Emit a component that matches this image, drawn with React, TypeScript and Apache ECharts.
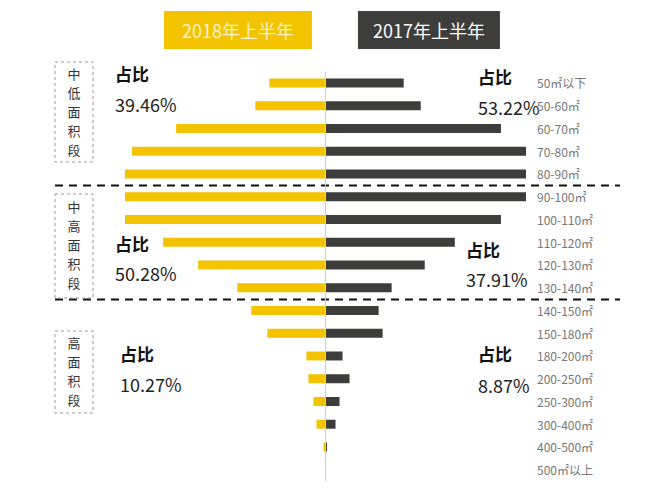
import React, { useEffect, useRef } from "react";
import * as echarts from "echarts";

const categories = [
  "50㎡以下", "50-60㎡", "60-70㎡", "70-80㎡", "80-90㎡", "90-100㎡",
  "100-110㎡", "110-120㎡", "120-130㎡", "130-140㎡", "140-150㎡", "150-180㎡",
  "180-200㎡", "200-250㎡", "250-300㎡", "300-400㎡", "400-500㎡", "500㎡以上",
];
const series2018 = [56, 70, 149, 193, 200, 200, 200, 162, 127, 88, 74, 58, 19, 17, 12, 9, 2, 0];
const series2017 = [78, 95, 175, 200, 200, 200, 175, 129, 99, 66, 53, 57, 17, 24, 14, 10, 1.5, 0];
const seriesNames = ["2018年上半年", "2017年上半年"];
const groupNames = ["中低面积段", "中高面积段", "高面积段"];
const share2018 = ["39.46%", "50.28%", "10.27%"];
const share2017 = ["53.22%", "37.91%", "8.87%"];
const shareTitle = "占比";

const YELLOW = "#f3c300";
const DARK = "#3d3d3b";

export default function App() {
  const ref = useRef<HTMLDivElement>(null);
  useEffect(() => {
    if (!ref.current) return;
    const chart = echarts.init(ref.current, undefined, { renderer: "svg" });
    const font = "Noto Sans CJK SC";
    const boxes = [
      { y: 62, h: 100, cy: 111 },
      { y: 194, h: 104, cy: 244 },
      { y: 331, h: 82, cy: 371 },
    ];
    const leftPos = [
      { x: 115, y1: 73, y2: 104 },
      { x: 115, y1: 243, y2: 273 },
      { x: 120, y1: 353, y2: 384 },
    ];
    const rightPos = [
      { x: 478, y1: 76, y2: 107 },
      { x: 466, y1: 249, y2: 279 },
      { x: 478, y1: 353, y2: 385 },
    ];
    const graphics: any[] = [];
    [185.5, 299.5].forEach((y) =>
      graphics.push({
        type: "line",
        shape: { x1: 55, y1: y, x2: 620, y2: y },
        style: { stroke: "#111", lineWidth: 2, lineDash: [8, 6] },
      })
    );
    boxes.forEach((b, i) => {
      graphics.push({
        type: "rect",
        shape: { x: 55, y: b.y, width: 38, height: b.h },
        style: { fill: "none", stroke: "#9a9a9a", lineWidth: 1, lineDash: [3, 3] },
      });
      const chars = groupNames[i].split("");
      const step = 19;
      const y0 = b.cy - ((chars.length - 1) * step) / 2;
      chars.forEach((ch, k) =>
        graphics.push({
          type: "text",
          x: 74,
          y: y0 + k * step,
          style: {
            text: ch,
            fill: "#333",
            font: `13px "${font}"`,
            lineHeight: 13,
            align: "center",
            verticalAlign: "middle",
          },
        })
      );
    });
    const addShare = (pos: any[], vals: string[]) =>
      pos.forEach((p, i) => {
        graphics.push({
          type: "text",
          x: p.x,
          y: p.y1,
          style: {
            text: shareTitle,
            fill: "#111",
            font: `bold 17px "${font}"`,
            align: "left",
            verticalAlign: "middle",
          },
        });
        graphics.push({
          type: "text",
          x: p.x,
          y: p.y2,
          style: {
            text: vals[i],
            fill: "#222",
            font: `18px "${font}"`,
            align: "left",
            verticalAlign: "middle",
          },
        });
      });
    addShare(leftPos, share2018);
    addShare(rightPos, share2017);

    chart.setOption({
      animation: false,
      legend: {
        left: 159,
        top: 11,
        padding: 0,
        icon: "none",
        itemWidth: 0,
        itemHeight: 0,
        itemGap: 41,
        selectedMode: false,
        data: [
          {
            name: seriesNames[0],
            textStyle: {
              color: "#fbf3d0",
              backgroundColor: YELLOW,
              padding: [9, 18, 9, 18],
              fontSize: 18,
              lineHeight: 20,
              fontFamily: font,
            },
          },
          {
            name: seriesNames[1],
            textStyle: {
              color: "#ffffff",
              backgroundColor: DARK,
              padding: [9, 15, 9, 15],
              fontSize: 18,
              lineHeight: 20,
              fontFamily: font,
            },
          },
        ],
      },
      grid: { left: 125, width: 401, top: 71.6, height: 409.5, containLabel: false },
      xAxis: {
        type: "value",
        min: -200,
        max: 200,
        show: false,
      },
      yAxis: {
        type: "category",
        data: categories,
        inverse: true,
        position: "right",
        axisLine: { show: false },
        axisTick: { show: false },
        splitLine: { show: false },
        axisLabel: {
          margin: 11,
          color: "#777",
          fontSize: 12,
          fontFamily: font,
          align: "left",
        },
      },
      series: [
        {
          name: seriesNames[0],
          type: "bar",
          stack: "total",
          barWidth: 9,
          itemStyle: { color: YELLOW },
          data: series2018.map((v) => -v),
        },
        {
          name: seriesNames[1],
          type: "bar",
          stack: "total",
          barWidth: 9,
          itemStyle: { color: DARK },
          data: series2017,
          markLine: {
            silent: true,
            symbol: "none",
            label: { show: false },
            lineStyle: { color: "#cfcfcf", width: 1, type: "solid" },
            data: [{ xAxis: 0 }],
          },
        },
      ],
      graphic: graphics,
    });
    return () => chart.dispose();
  }, []);
  return (
    <div
      ref={ref}
      style={{ position: "absolute", left: 0, top: 0, width: 650, height: 493, background: "#fff" }}
    />
  );
}
